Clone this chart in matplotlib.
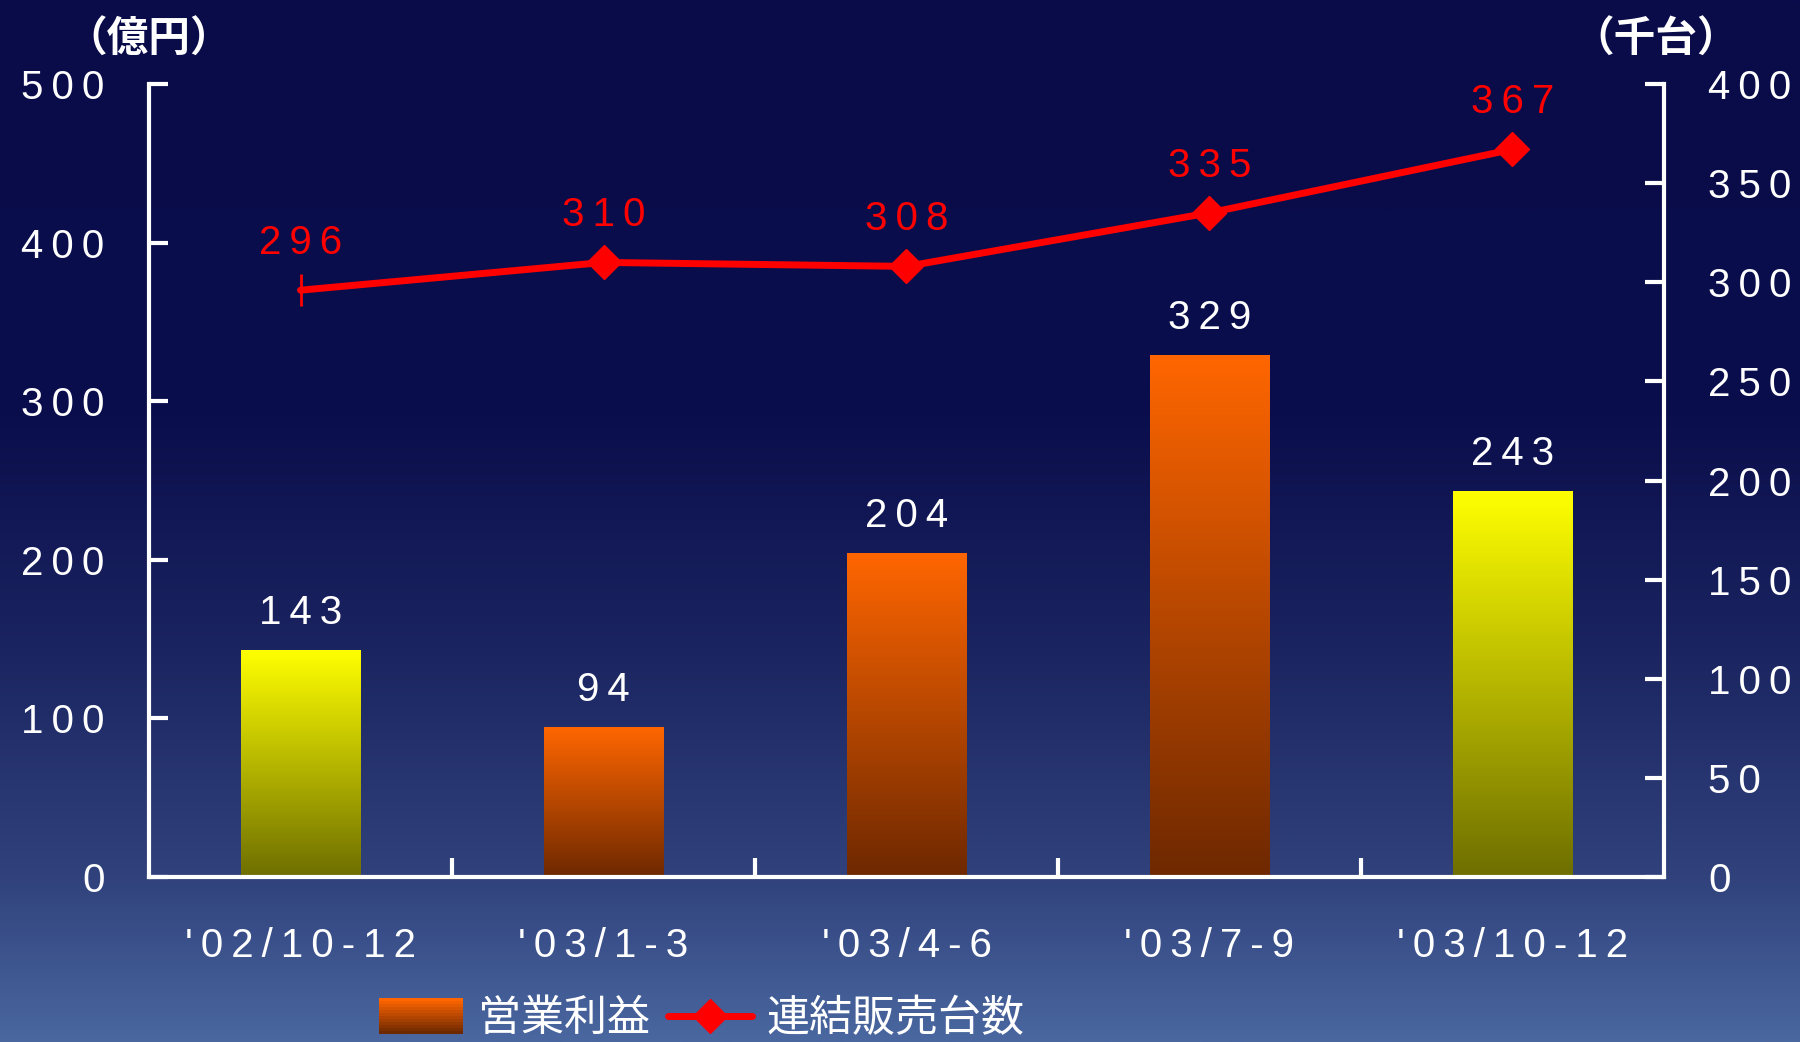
import numpy as np
import matplotlib
matplotlib.use("Agg")
import matplotlib.pyplot as plt
from matplotlib.colors import LinearSegmentedColormap, to_rgb
from matplotlib.legend_handler import HandlerBase
from matplotlib.patches import Rectangle
from matplotlib.lines import Line2D

# ---------------- data ----------------
categories = ["'02/10-12", "'03/1-3", "'03/4-6", "'03/7-9", "'03/10-12"]
profit = [143, 94, 204, 329, 243]          # 営業利益 (億円)
units = [296, 310, 308, 335, 367]           # 連結販売台数 (千台)
bar_kind = ["yellow", "orange", "orange", "orange", "yellow"]
left_ticks = [0, 100, 200, 300, 400, 500]
right_ticks = [0, 50, 100, 150, 200, 250, 300, 350, 400]
legend_labels = ["営業利益", "連結販売台数"]
left_unit = "（億円）"
right_unit = "（千台）"

TS = "\u2009"  # thin space for letter spacing
def spaced(s):
    return TS.join(list(s))

NUM_FONT = ["Liberation Sans", "DejaVu Sans"]
CJK_FONT = ["Noto Sans CJK JP", "DejaVu Sans"]
plt.rcParams["font.family"] = NUM_FONT

grad = {
    "yellow": ("#FFFF00", "#6E6E00"),
    "orange": ("#FF6600", "#6E2800"),
}

fig = plt.figure(figsize=(18, 10.42), dpi=100)

# ---------------- background gradient ----------------
bg = fig.add_axes([0, 0, 1, 1], zorder=-10)
bg_cmap = LinearSegmentedColormap.from_list(
    "bg", [(0.0, "#0A0C4A"), (0.40, "#0B0E4C"), (0.62, "#1A2460"),
           (0.84, "#30417B"), (1.0, "#4A67A0")])
g = np.linspace(0, 1, 512).reshape(-1, 1)
bg.imshow(g, cmap=bg_cmap, aspect="auto", extent=[0, 1, 0, 1], origin="upper")
bg.set_axis_off()

# ---------------- main axes ----------------
ax = fig.add_axes([0.0828, 0.1583, 0.8416, 0.7611])
ax.set_facecolor("none")
x = np.arange(len(categories))
bars = ax.bar(x, profit, width=0.395, color="none", edgecolor="none", zorder=2)
for b, kind in zip(bars, bar_kind):
    top, bot = grad[kind]
    cm = LinearSegmentedColormap.from_list("g", [bot, top])
    x0, w, h = b.get_x(), b.get_width(), b.get_height()
    ax.imshow(np.linspace(0, 1, 256).reshape(-1, 1), cmap=cm, aspect="auto",
              extent=[x0, x0 + w, 0, h], origin="lower", zorder=2)
    ax.annotate(spaced(str(int(h))), (x0 + w / 2, h), xytext=(0, 27),
                textcoords="offset points", ha="center", va="center",
                color="white", fontsize=29, fontfamily=NUM_FONT)

ax.set_xlim(-0.5, len(categories) - 0.5)
ax.set_ylim(0, 500)
ax.set_yticks(left_ticks)
ax.set_yticklabels([spaced(str(t)) for t in left_ticks])
ax.set_xticks(x)
ax.set_xticklabels([spaced(c) for c in categories])
ax.set_xticks(x[:-1] + 0.5, minor=True)
ax.tick_params(axis="x", which="major", length=0, pad=36, labelsize=29,
               labelcolor="white")
ax.tick_params(axis="x", which="minor", direction="in", length=14, width=3,
               color="white")
ax.tick_params(axis="y", direction="in", length=14, width=3, color="white",
               labelsize=29, labelcolor="white", pad=32)
for s in ["top", "right"]:
    ax.spines[s].set_visible(False)
for s in ["left", "bottom"]:
    ax.spines[s].set_color("white")
    ax.spines[s].set_linewidth(3)

# ---------------- secondary axis ----------------
ax2 = ax.twinx()
ax2.set_ylim(0, 400)
ax2.set_yticks(right_ticks)
ax2.set_yticklabels([spaced(str(t)) for t in right_ticks])
ax2.tick_params(axis="y", direction="in", length=14, width=3, color="white",
                labelsize=29, labelcolor="white", pad=32)
for s in ["top", "left", "bottom"]:
    ax2.spines[s].set_visible(False)
ax2.spines["right"].set_color("white")
ax2.spines["right"].set_linewidth(3)

ax2.plot(x, units, color="#FF0000", lw=5, zorder=3, solid_capstyle="round")
ax2.plot(x[1:], units[1:], ls="none", marker="D", ms=17.5, color="#FF0000",
         zorder=4)
ax2.plot(x[:1], units[:1], ls="none", marker="|", ms=23, mew=2,
         color="#FF0000", zorder=4)
for xi, v in zip(x, units):
    ax2.annotate(spaced(str(v)), (xi, v), xytext=(0, 34),
                 textcoords="offset points", ha="center", va="center",
                 color="#FF0000", fontsize=29, fontfamily=NUM_FONT)

# unit titles
fig.text(149 / 1800, 1 - 40 / 1042, left_unit, ha="center", va="center",
         color="white", fontsize=30, fontweight="bold", fontfamily=CJK_FONT)
fig.text(1656 / 1800, 1 - 40 / 1042, right_unit, ha="center", va="center",
         color="white", fontsize=30, fontweight="bold", fontfamily=CJK_FONT)

# ---------------- legend ----------------
class GradHandler(HandlerBase):
    def create_artists(self, legend, orig_handle, xdescent, ydescent,
                       width, height, fontsize, trans):
        n = 12
        top = np.array(to_rgb("#FF6600"))
        bot = np.array(to_rgb("#6E2800"))
        arts = []
        h = height * 1.2
        y0 = -ydescent - (h - height) / 2
        for i in range(n):
            c = bot + (top - bot) * (i / (n - 1))
            arts.append(Rectangle((-xdescent, y0 + h * i / n), width, h / n + 0.3,
                                  facecolor=c, edgecolor="none",
                                  transform=trans))
        return arts

patch_handle = Rectangle((0, 0), 1, 1, facecolor="#FF6600")
line_handle = Line2D([], [], color="#FF0000", lw=5, marker="D", ms=17,
                     solid_capstyle="round")
leg = fig.legend([patch_handle, line_handle], legend_labels, ncol=2,
                 loc="center", bbox_to_anchor=(0.390, 0.022), frameon=False,
                 handler_map={Rectangle: GradHandler()},
                 prop={"family": CJK_FONT, "size": 31},
                 handlelength=1.95, handletextpad=0.35, columnspacing=0.4,
                 borderpad=0)
for t in leg.get_texts():
    t.set_color("white")

fig.savefig("out.png", dpi=100)
